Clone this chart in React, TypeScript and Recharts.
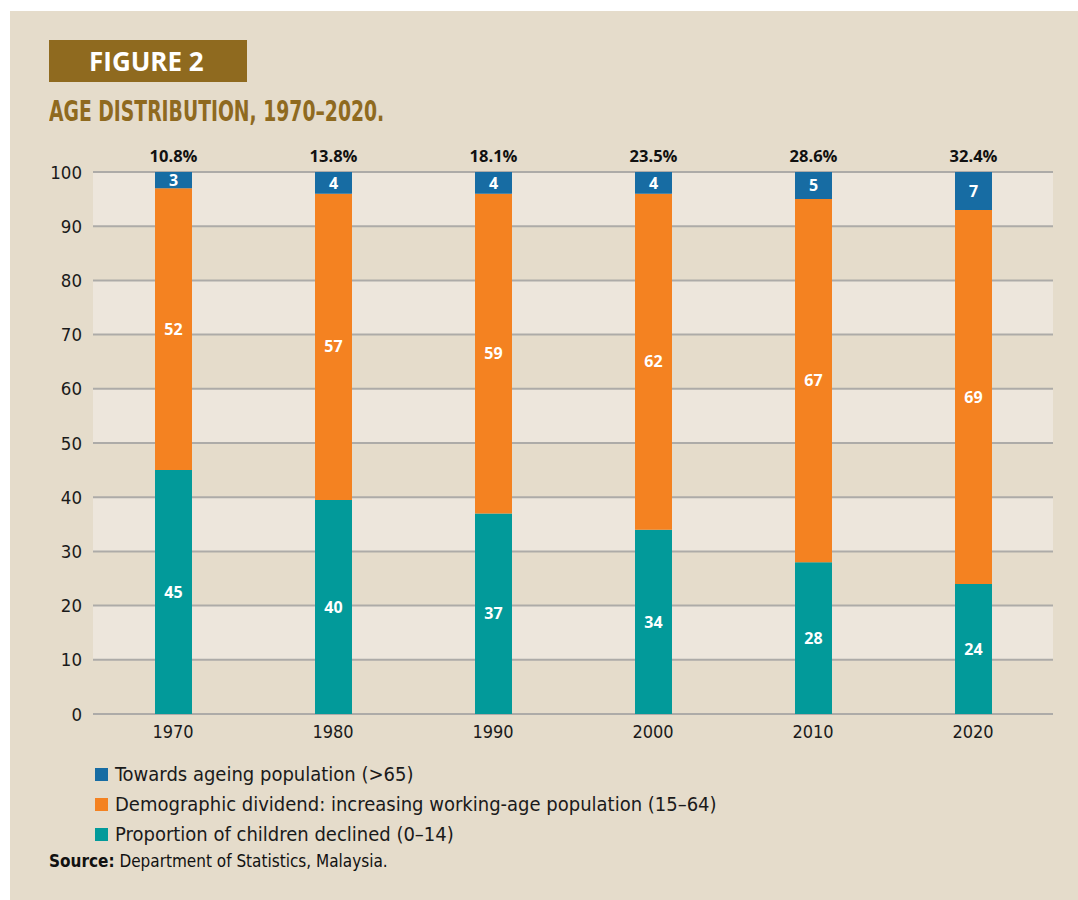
import { BarChart, Bar, XAxis, YAxis, CartesianGrid, LabelList } from 'recharts'

const years = ['1970', '1980', '1990', '2000', '2010', '2020']
const children = [45, 39.5, 37, 34, 28, 24]
const working = [52, 56.5, 59, 62, 67, 69]
const ageing = [3, 4, 4, 4, 5, 7]
const dependency = ['10.8%', '13.8%', '18.1%', '23.5%', '28.6%', '32.4%']
const yTicks = [0, 10, 20, 30, 40, 50, 60, 70, 80, 90, 100]

const series = [
  { key: 'children', name: 'Proportion of children declined (0\u201314)', color: '#029a9a' },
  { key: 'working', name: 'Demographic dividend: increasing working-age population (15\u201364)', color: '#f48221' },
  { key: 'ageing', name: 'Towards ageing population (>65)', color: '#176ca3' },
]

const data = years.map((year, i) => ({
  year,
  children: children[i],
  working: working[i],
  ageing: ageing[i],
  dependency: dependency[i],
}))

const BG = '#e5dccb'
const BROWN = '#8f6a1f'
const FONT = '"Open Sans", "Noto Sans", sans-serif'
const NARROW = '"Liberation Sans Narrow", "DejaVu Sans Condensed", sans-serif'

const valueLabel = { fill: '#fff', fontSize: 16, fontWeight: 700, fontFamily: FONT }

function TopLabel(props: any) {
  const { x, y, width, value } = props
  return (
    <text
      x={x + width / 2}
      y={y - 17}
      textAnchor="middle"
      dominantBaseline="central"
      fill="#111"
      fontSize={16.5}
      fontWeight={700}
      fontFamily={FONT}
    >
      {value}
    </text>
  )
}

function LegendBox() {
  const items = [...series].reverse()
  return (
    <div style={{ fontFamily: NARROW }}>
      {items.map((s) => (
        <div key={s.key} style={{ display: 'flex', alignItems: 'center', height: 30 }}>
          <span style={{ width: 13, height: 13, background: s.color, marginRight: 7, display: 'inline-block' }} />
          <span style={{ fontSize: 20, color: '#1a1a1a' }}>{s.name}</span>
        </div>
      ))}
    </div>
  )
}

export default function App() {
  return (
    <div style={{ position: 'absolute', left: 0, top: 0, width: 1078, height: 900, background: '#fff', overflow: 'hidden' }}>
      <div style={{ position: 'absolute', left: 10, top: 11, width: 1068, height: 889, background: BG }} />
      <div
        style={{
          position: 'absolute', left: 49, top: 40, width: 198, height: 42, background: BROWN,
          color: '#fff', fontFamily: FONT, fontWeight: 700, fontSize: 26, lineHeight: '42px',
          boxSizing: 'border-box', paddingLeft: 40,
        }}
      >
        FIGURE 2
      </div>
      <div
        style={{
          position: 'absolute', left: 49, top: 96, color: BROWN, fontFamily: NARROW,
          fontWeight: 700, fontSize: 28, lineHeight: '32px', whiteSpace: 'nowrap',
          transform: 'scaleX(0.745)', transformOrigin: 'left center',
        }}
      >
        AGE DISTRIBUTION, 1970&ndash;2020.
      </div>
      <div style={{ position: 'absolute', left: 0, top: 0 }}>
        <BarChart
          width={1078}
          height={750}
          data={data}
          margin={{ top: 172, right: 25, bottom: 0, left: 53 }}
          barSize={37}
        >
          <CartesianGrid
            vertical={false}
            stroke="#adaba8"
            strokeWidth={2}
            horizontalFill={['#ede6dc', BG]}
            fillOpacity={1}
          />
          <XAxis
            dataKey="year"
            axisLine={false}
            tickLine={false}
            height={36}
            tick={{ fill: '#1a1a1a', fontSize: 18, fontFamily: NARROW }}
            dy={3}
          />
          <YAxis
            domain={[0, 100]}
            ticks={yTicks}
            width={40}
            axisLine={false}
            tickLine={false}
            interval={0}
            dx={-3}
            tick={{ fill: '#1a1a1a', fontSize: 18.5, fontFamily: NARROW }}
          />
          {series.map((s) => (
            <Bar key={s.key} dataKey={s.key} name={s.name} stackId="a" fill={s.color} isAnimationActive={false}>
              <LabelList dataKey={s.key} position="center" formatter={(v: any) => Math.round(Number(v))} style={valueLabel} />
              {s.key === 'ageing' ? <LabelList dataKey="dependency" content={<TopLabel />} /> : null}
            </Bar>
          ))}
        </BarChart>
      </div>
      <div style={{ position: 'absolute', left: 95, top: 759, width: 700 }}>
        <LegendBox />
      </div>
      <div style={{ position: 'absolute', left: 49, top: 851, fontFamily: NARROW, fontSize: 17, color: '#111' }}>
        <b>Source:</b> Department of Statistics, Malaysia.
      </div>
    </div>
  )
}
